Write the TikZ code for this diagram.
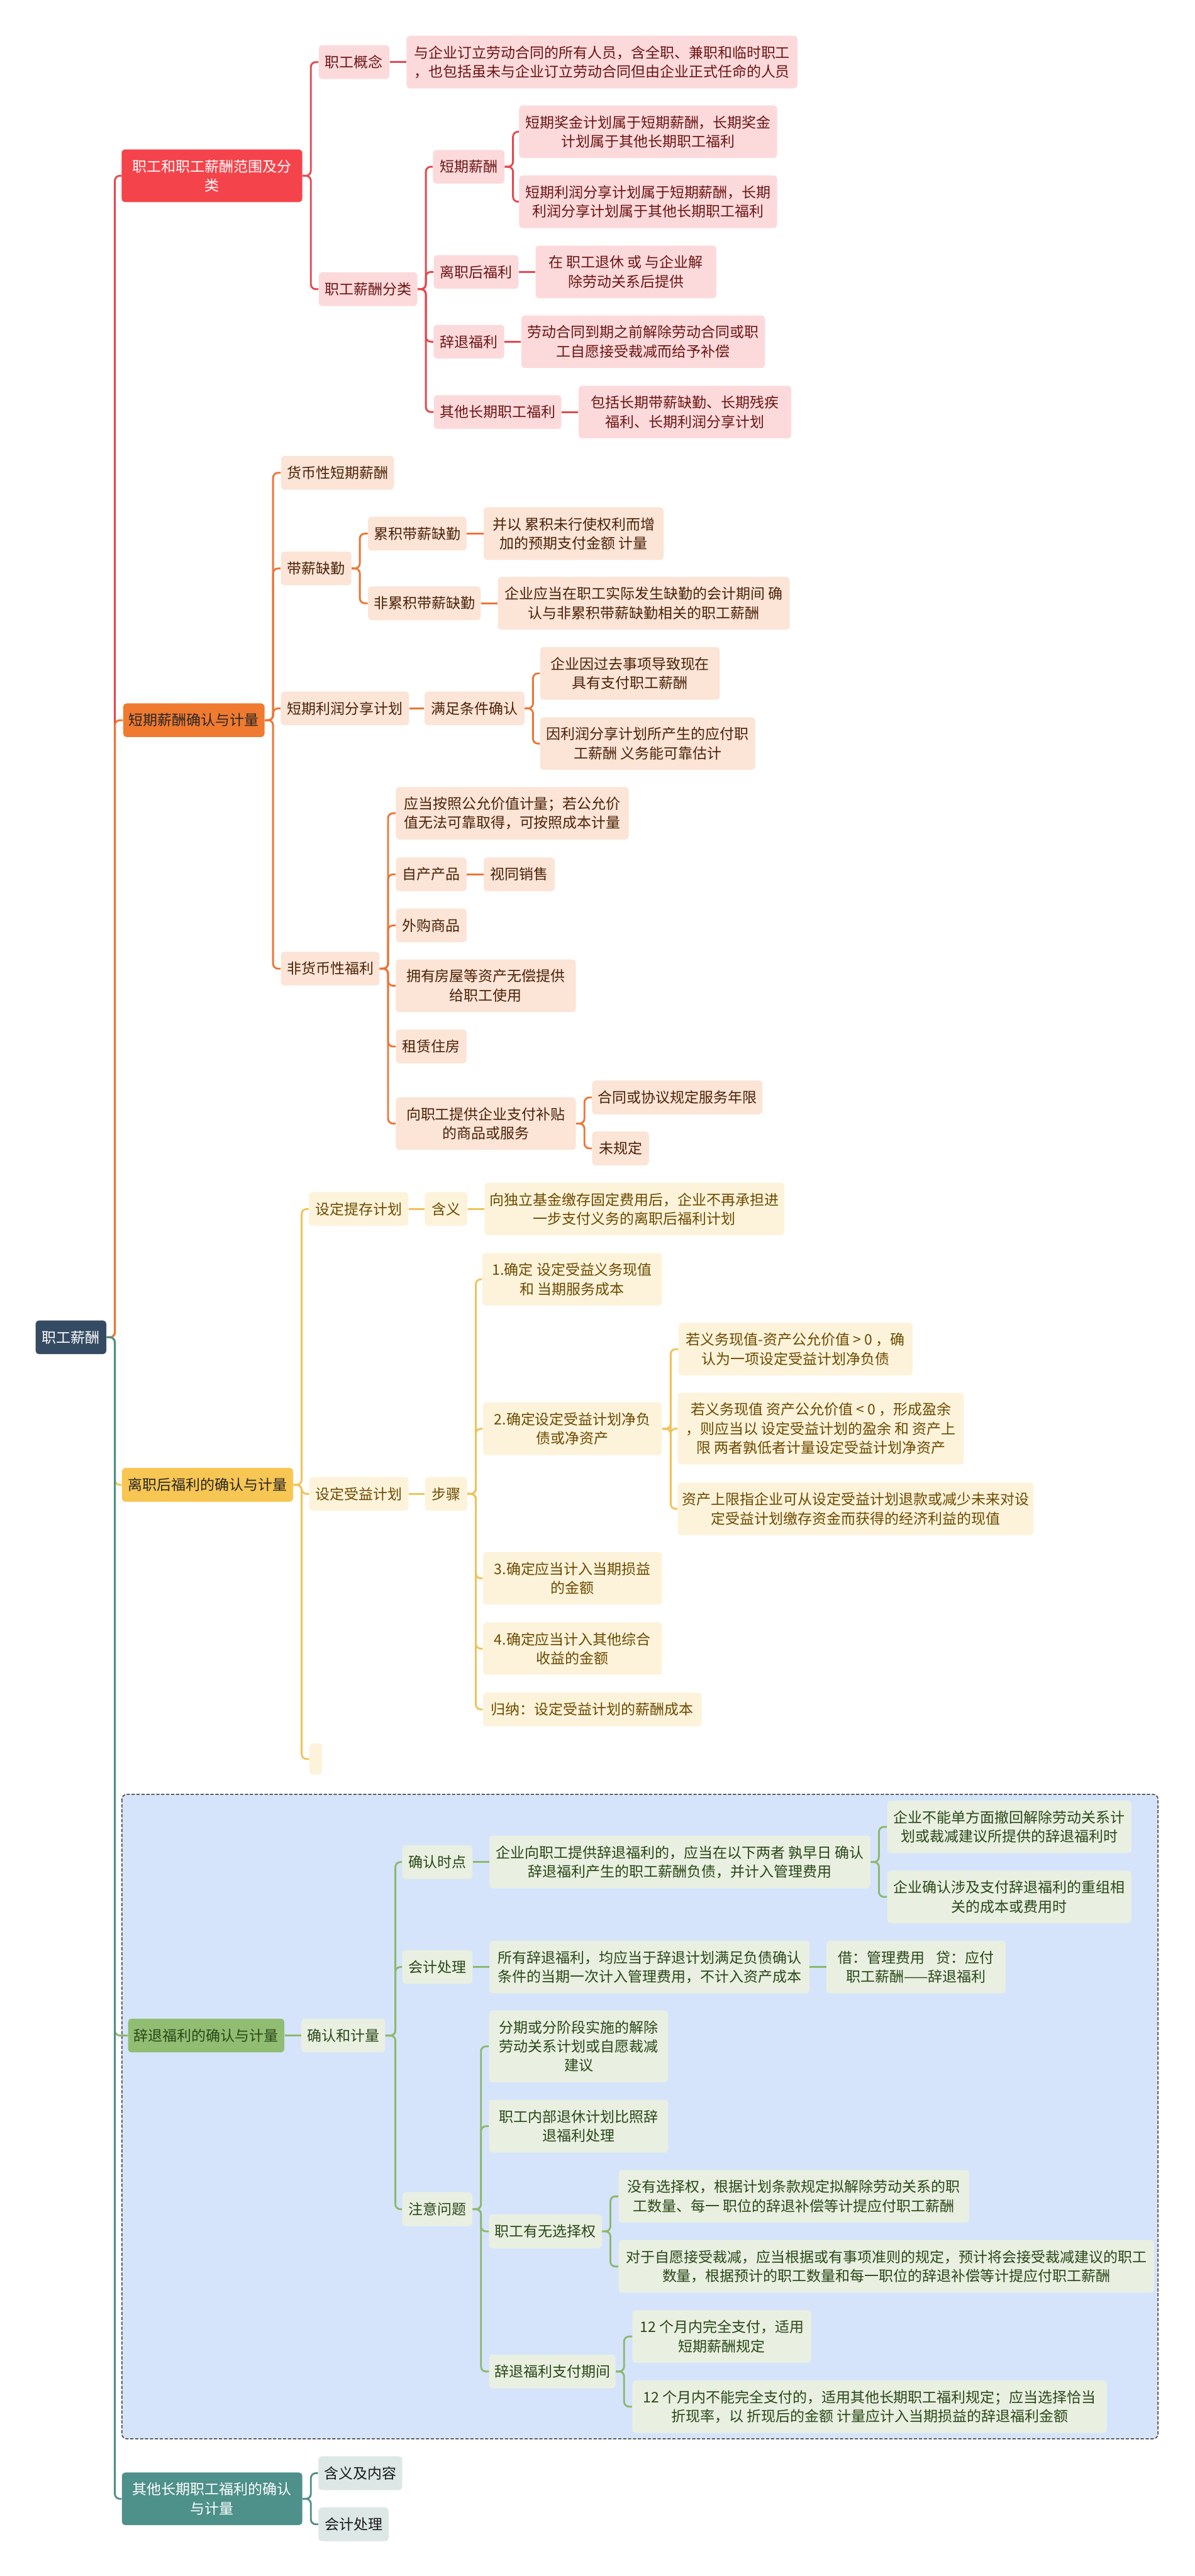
\documentclass[tikz,border=0pt]{standalone}
\usepackage{fontspec}
\setmainfont{Noto Sans CJK SC}
\usetikzlibrary{positioning}
\definecolor{rootfill}{HTML}{354B63}
\definecolor{redfill}{HTML}{F5434B}
\definecolor{redpale}{HTML}{FCDADB}
\definecolor{redink}{HTML}{6B1414}
\definecolor{redwire}{HTML}{E8454D}
\definecolor{orangefill}{HTML}{F07A30}
\definecolor{orangepale}{HTML}{FCE4D6}
\definecolor{orangeink}{HTML}{4A2208}
\definecolor{orangewire}{HTML}{ED7434}
\definecolor{yellowfill}{HTML}{F7C653}
\definecolor{yellowpale}{HTML}{FDF3DA}
\definecolor{yellowink}{HTML}{6B4A00}
\definecolor{yellowwire}{HTML}{F0C257}
\definecolor{greenfill}{HTML}{91BD72}
\definecolor{greenpale}{HTML}{E9F0E1}
\definecolor{greenink}{HTML}{2A4718}
\definecolor{greenwire}{HTML}{8CB86C}
\definecolor{greenback}{HTML}{D5E4FB}
\definecolor{tealfill}{HTML}{4E908A}
\definecolor{tealpale}{HTML}{DCE7E6}
\definecolor{tealwire}{HTML}{4E8F88}

\begin{document}
\begin{tikzpicture}[
  x=1pt, y=-1pt,
  font=\fontsize{8.8}{11.6}\selectfont,
  box/.style={rounded corners=2pt, align=center, inner sep=0pt},
  one/.style={minimum height=20.5pt},
  two/.style={minimum height=32pt},
  three/.style={minimum height=43.7pt},
  rootbox/.style={box, fill=rootfill, text=white},
  redtop/.style={box, fill=redfill, text=white},
  redleaf/.style={box, fill=redpale, text=redink},
  orangetop/.style={box, fill=orangefill, text=black!85},
  orangeleaf/.style={box, fill=orangepale, text=orangeink},
  yellowtop/.style={box, fill=yellowfill, text=black!85},
  yellowleaf/.style={box, fill=yellowpale, text=yellowink},
  greentop/.style={box, fill=greenfill, text=greenink},
  greenleaf/.style={box, fill=greenpale, text=greenink},
  tealtop/.style={box, fill=tealfill, text=white},
  tealleaf/.style={box, fill=tealpale, text=black!90},
  link/.style={line width=1.1pt, rounded corners=3pt},
  redlink/.style={link, draw=redwire},
  orangelink/.style={link, draw=orangewire},
  yellowlink/.style={link, draw=yellowwire},
  greenlink/.style={link, draw=greenwire},
  teallink/.style={link, draw=tealwire}
]
\useasboundingbox (0,0) rectangle (727,1568);
\fill[white] (0,0) rectangle (727,1568);
% boxed branch behind the green nodes
\draw[fill=greenback, draw=black!75, line width=0.6pt, dash pattern=on 2pt off 1pt,
  rounded corners=3pt] (74.2,1092.2) rectangle (704.8,1484.5);

\node[rootbox,one,minimum width=43pt] (root) at (43.2,814) {职工薪酬};

% branch 1
\node[redtop,two,minimum width=110pt] (wage) at (129,107) {职工和职工薪酬范围及分\\类};
\node[redleaf,one,minimum width=43pt] (concept) at (215.5,37.8) {职工概念};
\node[redleaf,two,minimum width=238pt,right=10pt of concept] (conceptdef)
  {与企业订立劳动合同的所有人员，含全职、兼职和临时职工\\，也包括虽未与企业订立劳动合同但由企业正式任命的人员};
\node[redleaf,one,minimum width=60pt] (kinds) at (224,176) {职工薪酬分类};
\node[redleaf,one,minimum width=43.5pt] (shortpay) at (285.3,101.5) {短期薪酬};
\node[redleaf,two,minimum width=157pt] (bonus) at (394.5,80.2)
  {短期奖金计划属于短期薪酬，长期奖金\\计划属于其他长期职工福利};
\node[redleaf,two,minimum width=157pt] (profit) at (394.5,122.8)
  {短期利润分享计划属于短期薪酬，长期\\利润分享计划属于其他长期职工福利};
\node[redleaf,one,minimum width=51.6pt] (postjob) at (289.8,165.5) {离职后福利};
\node[redleaf,two,minimum width=110pt,right=10pt of postjob] (postjobdef)
  {在 职工退休 或 与企业解\\除劳动关系后提供};
\node[redleaf,one,minimum width=43pt] (dismiss) at (285.4,208) {辞退福利};
\node[redleaf,two,minimum width=148.3pt,right=10pt of dismiss] (dismissdef)
  {劳动合同到期之前解除劳动合同或职\\工自愿接受裁减而给予补偿};
\node[redleaf,one,minimum width=77.7pt] (otherlong) at (302.9,250.8) {其他长期职工福利};
\node[redleaf,two,minimum width=129.5pt,right=10pt of otherlong] (otherlongdef)
  {包括长期带薪缺勤、长期残疾\\福利、长期利润分享计划};

% branch 2
\node[orangetop,one,minimum width=86pt] (shortrec) at (118,438.4) {短期薪酬确认与计量};
\node[orangeleaf,one,minimum width=68.7pt] (cash) at (205.4,287.8) {货币性短期薪酬};
\node[orangeleaf,one,minimum width=42.8pt] (paidleave) at (192.4,346) {带薪缺勤};
\node[orangeleaf,one,minimum width=60pt] (cumleave) at (254,324.8) {累积带薪缺勤};
\node[orangeleaf,two,minimum width=109.5pt,right=10pt of cumleave] (cumleavedef)
  {并以 累积未行使权利而增\\加的预期支付金额 计量};
\node[orangeleaf,one,minimum width=68.6pt] (noncum) at (258.3,367.2) {非累积带薪缺勤};
\node[orangeleaf,two,minimum width=177.7pt,right=10pt of noncum] (noncumdef)
  {企业应当在职工实际发生缺勤的会计期间 确\\认与非累积带薪缺勤相关的职工薪酬};
\node[orangeleaf,one,minimum width=78pt] (shareplan) at (210,431.2) {短期利润分享计划};
\node[orangeleaf,one,minimum width=60.8pt,right=9pt of shareplan] (meet) {满足条件确认};
\node[orangeleaf,two,minimum width=109.3pt] (meetA) at (383.4,409.9)
  {企业因过去事项导致现在\\具有支付职工薪酬};
\node[orangeleaf,two,minimum width=130.9pt] (meetB) at (394.2,452.6)
  {因利润分享计划所产生的应付职\\工薪酬 义务能可靠估计};
\node[orangeleaf,one,minimum width=60pt] (nonmoney) at (201,589.6) {非货币性福利};
\node[orangeleaf,two,minimum width=141.7pt] (fairvalue) at (311.8,495)
  {应当按照公允价值计量；若公允价\\值无法可靠取得，可按照成本计量};
\node[orangeleaf,one,minimum width=43pt] (ownmade) at (262.5,532.2) {自产产品};
\node[orangeleaf,one,minimum width=43.3pt,right=10pt of ownmade] (assale) {视同销售};
\node[orangeleaf,one,minimum width=43pt] (bought) at (262.5,563.3) {外购商品};
\node[orangeleaf,two,minimum width=109.6pt] (house) at (295.7,600)
  {拥有房屋等资产无偿提供\\给职工使用};
\node[orangeleaf,one,minimum width=43pt] (rent) at (262.5,637) {租赁住房};
\node[orangeleaf,two,minimum width=109.6pt] (subsidy) at (295.7,683.9)
  {向职工提供企业支付补贴\\的商品或服务};
\node[orangeleaf,one,minimum width=103.6pt] (term) at (412.2,668) {合同或协议规定服务年限};
\node[orangeleaf,one,minimum width=34.6pt] (noterm) at (377.7,699) {未规定};

% branch 3
\node[yellowtop,one,minimum width=104.2pt] (postrec) at (126.3,903.8) {离职后福利的确认与计量};
\node[yellowleaf,one,minimum width=60.6pt] (dcplan) at (218.3,735.9) {设定提存计划};
\node[yellowleaf,one,minimum width=26pt,right=9.5pt of dcplan] (dcmean) {含义};
\node[yellowleaf,two,minimum width=182.5pt,right=10pt of dcmean] (dcmeandef)
  {向独立基金缴存固定费用后，企业不再承担进\\一步支付义务的离职后福利计划};
\node[yellowleaf,one,minimum width=60.4pt] (dbplan) at (218.5,909.3) {设定受益计划};
\node[yellowleaf,one,minimum width=25.7pt,right=9.6pt of dbplan] (steps) {步骤};
\node[yellowleaf,two,minimum width=109.4pt] (step1) at (348.3,778.7)
  {1.确定 设定受益义务现值\\和 当期服务成本};
\node[yellowleaf,two,minimum width=109pt] (step2) at (348.5,869.7)
  {2.确定设定受益计划净负\\债或净资产};
\node[yellowleaf,two,minimum width=142.4pt] (debt) at (484.2,821.2)
  {若义务现值-资产公允价值 > 0 ，确\\认为一项设定受益计划净负债};
\node[yellowleaf,three,minimum width=174.1pt] (surplus) at (499.6,869.6)
  {若义务现值 资产公允价值 < 0 ，形成盈余\\，则应当以 设定受益计划的盈余 和 资产上\\限 两者孰低者计量设定受益计划净资产};
\node[yellowleaf,two,minimum width=216.5pt] (ceiling) at (520.8,918.4)
  {资产上限指企业可从设定受益计划退款或减少未来对设\\定受益计划缴存资金而获得的经济利益的现值};
\node[yellowleaf,two,minimum width=109pt] (step3) at (348.5,960.7)
  {3.确定应当计入当期损益\\的金额};
\node[yellowleaf,two,minimum width=109pt] (step4) at (348.5,1003.5)
  {4.确定应当计入其他综合\\收益的金额};
\node[yellowleaf,one,minimum width=133pt] (summary) at (360.5,1040.5) {归纳：设定受益计划的薪酬成本};
\node[yellowleaf,minimum width=7.7pt,minimum height=19pt] (blank) at (192.2,1070.7) {};

% branch 4
\node[greentop,one,minimum width=95.1pt] (dismissrec) at (125.5,1239) {辞退福利的确认与计量};
\node[greenleaf,one,minimum width=51pt,right=10pt of dismissrec] (recmeas) {确认和计量};
\node[greenleaf,one,minimum width=42.7pt] (when) at (266.2,1133.4) {确认时点};
\node[greenleaf,two,minimum width=231.8pt,right=10pt of when] (whendef)
  {企业向职工提供辞退福利的，应当在以下两者 孰早日 确认\\辞退福利产生的职工薪酬负债，并计入管理费用};
\node[greenleaf,two,minimum width=148.6pt] (whenA) at (614.3,1112)
  {企业不能单方面撤回解除劳动关系计\\划或裁减建议所提供的辞退福利时};
\node[greenleaf,two,minimum width=148.6pt] (whenB) at (614.3,1154.6)
  {企业确认涉及支付辞退福利的重组相\\关的成本或费用时};
\node[greenleaf,one,minimum width=42.7pt] (booking) at (266.2,1197.3) {会计处理};
\node[greenleaf,two,minimum width=194.7pt,right=10pt of booking] (bookingdef)
  {所有辞退福利，均应当于辞退计划满足负债确认\\条件的当期一次计入管理费用，不计入资产成本};
\node[greenleaf,two,minimum width=109pt,right=10pt of bookingdef] (entry)
  {借：管理费用\hspace{0.8em}贷：应付\\职工薪酬——辞退福利};
\node[greenleaf,one,minimum width=42.7pt] (issues) at (266.2,1344.7) {注意问题};
\node[greenleaf,three,minimum width=109pt] (staged) at (352.2,1245.6)
  {分期或分阶段实施的解除\\劳动关系计划或自愿裁减\\建议};
\node[greenleaf,two,minimum width=109pt] (internal) at (352.2,1294.2)
  {职工内部退休计划比照辞\\退福利处理};
\node[greenleaf,one,minimum width=68.6pt] (choice) at (332,1358.2) {职工有无选择权};
\node[greenleaf,two,minimum width=213.3pt] (nochoice) at (483.2,1336.9)
  {没有选择权，根据计划条款规定拟解除劳动关系的职\\工数量、每一 职位的辞退补偿等计提应付职工薪酬};
\node[greenleaf,two,minimum width=326pt] (voluntary) at (539.5,1379.6)
  {对于自愿接受裁减，应当根据或有事项准则的规定，预计将会接受裁减建议的职工\\数量，根据预计的职工数量和每一职位的辞退补偿等计提应付职工薪酬};
\node[greenleaf,one,minimum width=76.9pt] (payperiod) at (336.2,1443.5) {辞退福利支付期间};
\node[greenleaf,two,minimum width=108.9pt] (within) at (439.4,1422.2)
  {12 个月内完全支付，适用\\短期薪酬规定};
\node[greenleaf,two,minimum width=288.8pt] (beyond) at (529.3,1464.9)
  {12 个月内不能完全支付的，适用其他长期职工福利规定；应当选择恰当\\折现率，以 折现后的金额 计量应计入当期损益的辞退福利金额};

% branch 5
\node[tealtop,two,minimum width=109.8pt] (otherrec) at (129.1,1521) {其他长期职工福利的确认\\与计量};
\node[tealleaf,one,minimum width=51pt] (meaning) at (219.3,1505.4) {含义及内容};
\node[tealleaf,one,minimum width=42.7pt] (acct) at (215.2,1536.5) {会计处理};

% connectors
\draw[redlink] (root.east) -- ++(5,0) |- (wage.west);
\draw[orangelink] (root.east) -- ++(5,0) |- (shortrec.west);
\draw[yellowlink] (root.east) -- ++(5,0) |- (postrec.west);
\draw[greenlink] (root.east) -- ++(5,0) |- (dismissrec.west);
\draw[teallink] (root.east) -- ++(5,0) |- (otherrec.west);

\draw[redlink] (wage.east) -- ++(5,0) |- (concept.west);
\draw[redlink] (wage.east) -- ++(5,0) |- (kinds.west);
\draw[redlink] (concept) -- (conceptdef);
\draw[redlink] (kinds.east) -- ++(5,0) |- (shortpay.west);
\draw[redlink] (kinds.east) -- ++(5,0) |- (postjob.west);
\draw[redlink] (kinds.east) -- ++(5,0) |- (dismiss.west);
\draw[redlink] (kinds.east) -- ++(5,0) |- (otherlong.west);
\draw[redlink] (shortpay.east) -- ++(5,0) |- (bonus.west);
\draw[redlink] (shortpay.east) -- ++(5,0) |- (profit.west);
\draw[redlink] (postjob) -- (postjobdef);
\draw[redlink] (dismiss) -- (dismissdef);
\draw[redlink] (otherlong) -- (otherlongdef);

\draw[orangelink] (shortrec.east) -- ++(5,0) |- (cash.west);
\draw[orangelink] (shortrec.east) -- ++(5,0) |- (paidleave.west);
\draw[orangelink] (shortrec.east) -- ++(5,0) |- (shareplan.west);
\draw[orangelink] (shortrec.east) -- ++(5,0) |- (nonmoney.west);
\draw[orangelink] (paidleave.east) -- ++(5,0) |- (cumleave.west);
\draw[orangelink] (paidleave.east) -- ++(5,0) |- (noncum.west);
\draw[orangelink] (cumleave) -- (cumleavedef);
\draw[orangelink] (noncum) -- (noncumdef);
\draw[orangelink] (shareplan) -- (meet);
\draw[orangelink] (meet.east) -- ++(5,0) |- (meetA.west);
\draw[orangelink] (meet.east) -- ++(5,0) |- (meetB.west);
\draw[orangelink] (nonmoney.east) -- ++(5,0) |- (fairvalue.west);
\draw[orangelink] (nonmoney.east) -- ++(5,0) |- (ownmade.west);
\draw[orangelink] (nonmoney.east) -- ++(5,0) |- (bought.west);
\draw[orangelink] (nonmoney.east) -- ++(5,0) |- (house.west);
\draw[orangelink] (nonmoney.east) -- ++(5,0) |- (rent.west);
\draw[orangelink] (nonmoney.east) -- ++(5,0) |- (subsidy.west);
\draw[orangelink] (ownmade) -- (assale);
\draw[orangelink] (subsidy.east) -- ++(5,0) |- (term.west);
\draw[orangelink] (subsidy.east) -- ++(5,0) |- (noterm.west);

\draw[yellowlink] (postrec.east) -- ++(5,0) |- (dcplan.west);
\draw[yellowlink] (postrec.east) -- ++(5,0) |- (dbplan.west);
\draw[yellowlink] (postrec.east) -- ++(5,0) |- (blank.west);
\draw[yellowlink] (dcplan) -- (dcmean);
\draw[yellowlink] (dcmean) -- (dcmeandef);
\draw[yellowlink] (dbplan) -- (steps);
\draw[yellowlink] (steps.east) -- ++(5,0) |- (step1.west);
\draw[yellowlink] (steps.east) -- ++(5,0) |- (step2.west);
\draw[yellowlink] (steps.east) -- ++(5,0) |- (step3.west);
\draw[yellowlink] (steps.east) -- ++(5,0) |- (step4.west);
\draw[yellowlink] (steps.east) -- ++(5,0) |- (summary.west);
\draw[yellowlink] (step2.east) -- ++(5,0) |- (debt.west);
\draw[yellowlink] (step2.east) -- ++(5,0) |- (surplus.west);
\draw[yellowlink] (step2.east) -- ++(5,0) |- (ceiling.west);

\draw[greenlink] (dismissrec) -- (recmeas);
\draw[greenlink] (recmeas.east) -- ++(6,0) |- (when.west);
\draw[greenlink] (recmeas.east) -- ++(6,0) |- (booking.west);
\draw[greenlink] (recmeas.east) -- ++(6,0) |- (issues.west);
\draw[greenlink] (when) -- (whendef);
\draw[greenlink] (whendef.east) -- ++(5,0) |- (whenA.west);
\draw[greenlink] (whendef.east) -- ++(5,0) |- (whenB.west);
\draw[greenlink] (booking) -- (bookingdef);
\draw[greenlink] (bookingdef) -- (entry);
\draw[greenlink] (issues.east) -- ++(5,0) |- (staged.west);
\draw[greenlink] (issues.east) -- ++(5,0) |- (internal.west);
\draw[greenlink] (issues.east) -- ++(5,0) |- (choice.west);
\draw[greenlink] (issues.east) -- ++(5,0) |- (payperiod.west);
\draw[greenlink] (choice.east) -- ++(5,0) |- (nochoice.west);
\draw[greenlink] (choice.east) -- ++(5,0) |- (voluntary.west);
\draw[greenlink] (payperiod.east) -- ++(5,0) |- (within.west);
\draw[greenlink] (payperiod.east) -- ++(5,0) |- (beyond.west);

\draw[teallink] (otherrec.east) -- ++(5,0) |- (meaning.west);
\draw[teallink] (otherrec.east) -- ++(5,0) |- (acct.west);
\end{tikzpicture}
\end{document}
